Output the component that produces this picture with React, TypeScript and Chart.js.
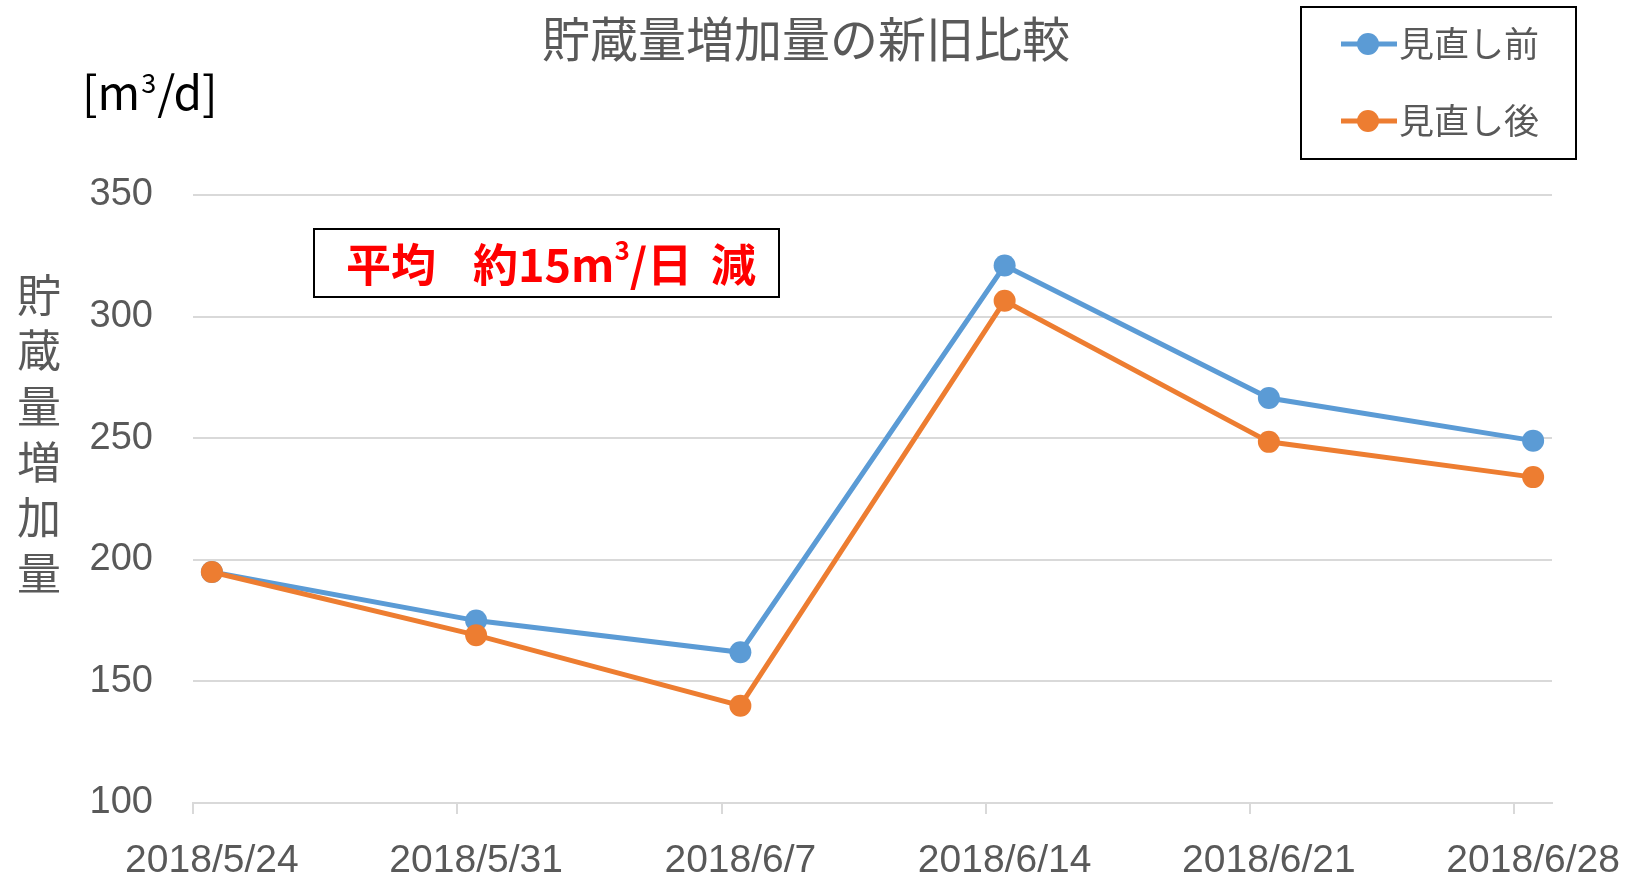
import React, { useEffect, useRef } from 'react';
import { Chart, registerables } from 'chart.js';

Chart.register(...registerables);

// ---- data ----
const chartTitle = '貯蔵量増加量の新旧比較';
const yAxisTitle = '貯蔵量増加量';
const unitLabel = ['[m', '3', '/d]'];
const noteParts = ['平均', '約15m', '3', '/日', '減'];
const categories = ['2018/5/24', '2018/5/31', '2018/6/7', '2018/6/14', '2018/6/21', '2018/6/28'];
const seriesNames = ['見直し前', '見直し後'];
const beforeValues = [195, 175, 162, 321, 266.5, 249];
const afterValues = [195, 169, 140, 306.5, 248.5, 234];
const yTickValues = [100, 150, 200, 250, 300, 350];
const seriesColors = ['#5B9BD5', '#ED7D31'];

const JP = '"Noto Sans CJK JP", "Noto Sans", sans-serif';
const NUM = '"Liberation Sans", Arial, sans-serif';
const GRAY = '#595959';
const GRID = '#D9D9D9';

// daily axis slots between the first and last category (Excel-style date axis)
function buildDayLabels(first: string, last: string): string[] {
  const [y1, m1, d1] = first.split('/').map(Number);
  const [y2, m2, d2] = last.split('/').map(Number);
  const cur = new Date(y1, m1 - 1, d1);
  const end = new Date(y2, m2 - 1, d2);
  const out: string[] = [];
  while (cur <= end) {
    out.push(`${cur.getFullYear()}/${cur.getMonth() + 1}/${cur.getDate()}`);
    cur.setDate(cur.getDate() + 1);
  }
  return out;
}
const dayLabels = buildDayLabels(categories[0], categories[categories.length - 1]);

const decorPlugin = {
  id: 'decor',
  afterDraw(chart: any) {
    const ctx = chart.ctx as CanvasRenderingContext2D;
    ctx.save();
    // title
    ctx.fillStyle = GRAY;
    ctx.font = `48px ${JP}`;
    ctx.textAlign = 'center';
    ctx.textBaseline = 'middle';
    ctx.fillText(chartTitle, 806, 39);

    // unit
    ctx.fillStyle = '#000000';
    ctx.textAlign = 'left';
    ctx.textBaseline = 'alphabetic';
    let ux = 82;
    const ubase = 110;
    ctx.font = `46px ${JP}`;
    ctx.fillText(unitLabel[0], ux, ubase);
    ux += ctx.measureText(unitLabel[0]).width + 1;
    ctx.font = `27px ${JP}`;
    ctx.fillText(unitLabel[1], ux, ubase - 17);
    ux += ctx.measureText(unitLabel[1]).width + 1;
    ctx.font = `46px ${JP}`;
    ctx.fillText(unitLabel[2], ux, ubase);

    // vertical y-axis title
    ctx.fillStyle = GRAY;
    ctx.font = `44px ${JP}`;
    ctx.textAlign = 'center';
    ctx.textBaseline = 'middle';
    Array.from(yAxisTitle).forEach((ch, i) => {
      ctx.fillText(ch, 39, 295 + i * 55.6);
    });

    // annotation box
    ctx.fillStyle = '#FFFFFF';
    ctx.fillRect(314, 229, 465, 68);
    ctx.strokeStyle = '#000000';
    ctx.lineWidth = 2;
    ctx.strokeRect(314, 229, 465, 68);
    ctx.fillStyle = '#FF0000';
    ctx.textAlign = 'left';
    ctx.textBaseline = 'middle';
    const ny = 265;
    ctx.font = `bold 45px ${JP}`;
    ctx.fillText(noteParts[0], 346, ny);
    let nx = 473;
    ctx.fillText(noteParts[1], nx, ny);
    nx += ctx.measureText(noteParts[1]).width;
    ctx.font = `bold 26px ${JP}`;
    ctx.fillText(noteParts[2], nx, ny - 15);
    nx += ctx.measureText(noteParts[2]).width;
    ctx.font = `bold 45px ${JP}`;
    ctx.fillText(noteParts[3], nx, ny);
    ctx.fillText(noteParts[4], 711, ny);

    // legend box
    ctx.fillStyle = '#FFFFFF';
    ctx.fillRect(1301, 7, 275, 152);
    ctx.strokeStyle = '#000000';
    ctx.lineWidth = 2;
    ctx.strokeRect(1301, 7, 275, 152);
    chart.data.datasets.forEach((ds: any, i: number) => {
      const ly = 44 + i * 77;
      ctx.strokeStyle = ds.borderColor;
      ctx.lineWidth = 5;
      ctx.beginPath();
      ctx.moveTo(1341, ly);
      ctx.lineTo(1397, ly);
      ctx.stroke();
      ctx.fillStyle = ds.pointBackgroundColor;
      ctx.beginPath();
      ctx.arc(1368, ly, 11, 0, Math.PI * 2);
      ctx.fill();
      ctx.fillStyle = GRAY;
      ctx.font = `35px ${JP}`;
      ctx.textAlign = 'left';
      ctx.textBaseline = 'middle';
      ctx.fillText(ds.label, 1399, ly);
    });
    ctx.restore();
  },
};

export default function App() {
  const canvasRef = useRef<HTMLCanvasElement | null>(null);

  useEffect(() => {
    document.body.style.margin = '0';
    const canvas = canvasRef.current;
    if (!canvas) return;
    const mk = (vals: number[]) => categories.map((c, i) => ({ x: c, y: vals[i] }));
    const chart = new Chart(canvas, {
      type: 'line',
      data: {
        labels: dayLabels,
        datasets: [
          {
            label: seriesNames[0],
            data: mk(beforeValues),
            borderColor: seriesColors[0],
            backgroundColor: seriesColors[0],
            pointBackgroundColor: seriesColors[0],
            pointBorderWidth: 0,
            pointRadius: 11,
            borderWidth: 5,
            tension: 0,
            order: 1,
          },
          {
            label: seriesNames[1],
            data: mk(afterValues),
            borderColor: seriesColors[1],
            backgroundColor: seriesColors[1],
            pointBackgroundColor: seriesColors[1],
            pointBorderWidth: 0,
            pointRadius: 11,
            borderWidth: 5,
            tension: 0,
            order: 0,
          },
        ],
      },
      options: {
        animation: false,
        responsive: false,
        devicePixelRatio: 1,
        layout: { padding: { top: 195, right: 85, bottom: 0, left: 0 } },
        plugins: {
          legend: { display: false },
          title: { display: false },
          tooltip: { enabled: false },
        },
        scales: {
          x: {
            type: 'category',
            labels: dayLabels,
            offset: true,
            grid: {
              offset: true,
              drawOnChartArea: false,
              drawTicks: true,
              tickLength: 11,
              lineWidth: 2,
              color: (c: any) =>
                typeof c.index === 'number' && c.index % 7 === 0 ? GRID : 'rgba(0,0,0,0)',
              tickColor: (c: any) =>
                typeof c.index === 'number' && c.index % 7 === 0 ? GRID : 'rgba(0,0,0,0)',
            },
            border: { display: true, color: GRID, width: 2 },
            ticks: {
              autoSkip: false,
              maxRotation: 0,
              minRotation: 0,
              padding: 24,
              color: GRAY,
              font: { family: NUM, size: 39 },
              callback: (_v: any, i: number) =>
                categories.includes(dayLabels[i]) ? dayLabels[i] : '',
            },
            afterFit: (s: any) => {
              s.height = 75;
              s.paddingLeft = 0;
              s.paddingRight = 0;
            },
          },
          y: {
            min: yTickValues[0],
            max: yTickValues[yTickValues.length - 1],
            afterBuildTicks: (s: any) => {
              s.ticks = yTickValues.map((v) => ({ value: v }));
            },
            ticks: {
              padding: 40,
              color: GRAY,
              font: { family: NUM, size: 38 },
            },
            grid: { color: GRID, lineWidth: 2, drawTicks: false },
            border: { display: false },
            afterFit: (s: any) => {
              s.width = 193;
            },
          },
        },
      } as any,
      plugins: [decorPlugin],
    });
    return () => chart.destroy();
  }, []);

  return (
    <div style={{ position: 'absolute', left: 0, top: 0, width: 1637, height: 878, background: '#fff' }}>
      <canvas ref={canvasRef} width={1637} height={878} style={{ display: 'block' }} />
    </div>
  );
}
